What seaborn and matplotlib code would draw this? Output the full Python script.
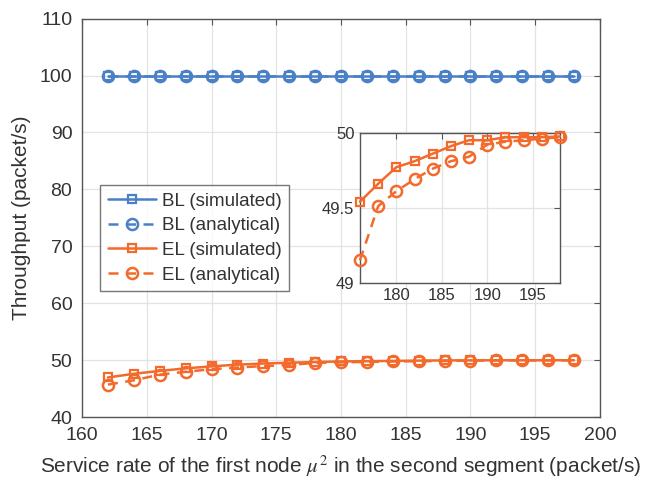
import matplotlib
matplotlib.use('Agg')
import matplotlib.pyplot as plt
import seaborn as sns

# service rate of first node (packet/s)
service_rate = [162, 164, 166, 168, 170, 172, 174, 176, 178, 180,
                182, 184, 186, 188, 190, 192, 194, 196, 198]

bl_simulated = [100.0] * 19
bl_analytical = [100.0] * 19

el_simulated = [46.95, 47.6, 48.1, 48.55, 48.9, 49.2, 49.4, 49.54, 49.66, 49.77,
                49.81, 49.86, 49.91, 49.95, 49.95, 49.97, 49.97, 49.97, 49.975]
el_analytical = [45.7, 46.45, 47.45, 47.95, 48.4, 48.7, 48.95, 49.15, 49.51, 49.61,
                 49.69, 49.76, 49.81, 49.84, 49.92, 49.94, 49.95, 49.96, 49.97]

inset_start = 7  # inset begins at 176

BLUE = '#4A80C6'
ORANGE = '#F26A2C'
TEXT = '#333333'
EDGE = '#555555'


def style_axes(ax, size, pad):
    ax.set_facecolor('white')
    ax.grid(True, color='#e3e3e3', linewidth=0.9)
    ax.tick_params(direction='in', top=True, right=True, length=4, pad=pad,
                   colors=EDGE, labelcolor=TEXT, labelsize=size)
    for sp in ax.spines.values():
        sp.set_color(EDGE)
        sp.set_linewidth(1.0)
        sp.set_visible(True)


def draw_series(ax, x, sim, ana, color, names, clip=True):
    sns.lineplot(x=x, y=sim, ax=ax, color=color, linewidth=1.8,
                 marker='s', markersize=6, markerfacecolor='none',
                 markeredgecolor=color, markeredgewidth=1.6,
                 label=names[0], legend=False, clip_on=clip, zorder=3)
    sns.lineplot(x=x, y=ana, ax=ax, color=color, linewidth=1.8,
                 linestyle=(0, (4, 3)), marker='o', markersize=8,
                 markerfacecolor='none', markeredgecolor=color,
                 markeredgewidth=1.8, label=names[1], legend=False,
                 clip_on=clip, zorder=3)


sns.set_style('white')
plt.rcParams['font.family'] = ['Liberation Sans', 'DejaVu Sans']
plt.rcParams['mathtext.fontset'] = 'stix'

fig = plt.figure(figsize=(6.49, 4.87), dpi=100)
ax = fig.add_axes([0.1264, 0.1437, 0.798, 0.818])

draw_series(ax, service_rate, bl_simulated, bl_analytical, BLUE,
            ['BL (simulated)', 'BL (analytical)'])
draw_series(ax, service_rate, el_simulated, el_analytical, ORANGE,
            ['EL (simulated)', 'EL (analytical)'])

ax.set_xlim(160, 200)
ax.set_ylim(40, 110)
ax.set_xticks(range(160, 201, 5))
ax.set_yticks(range(40, 111, 10))
style_axes(ax, 14, 7)
ax.set_xlabel(r'Service rate of the first node $\mu^2$ in the second segment (packet/s)',
              fontsize=15, color=TEXT, labelpad=7)
ax.set_ylabel('Throughput (packet/s)', fontsize=15, color=TEXT, labelpad=6)

leg = ax.legend(loc='upper left', bbox_to_anchor=(0.035, 0.582), borderaxespad=0,
                fontsize=13.5, frameon=True, fancybox=False, handlelength=2.6,
                handletextpad=0.3, labelspacing=0.4, borderpad=0.4)
leg.get_frame().set_edgecolor(EDGE)
leg.get_frame().set_linewidth(1.0)
for t in leg.get_texts():
    t.set_color(TEXT)

# zoomed inset
axin = fig.add_axes([0.5547, 0.4195, 0.308, 0.308])
draw_series(axin, service_rate[inset_start:], el_simulated[inset_start:],
            el_analytical[inset_start:], ORANGE, ['_a', '_b'], clip=False)
axin.set_xlim(176, 198)
axin.set_ylim(49, 50)
axin.set_xticks([180, 185, 190, 195])
axin.set_yticks([49, 49.5, 50])
axin.set_yticklabels(['49', '49.5', '50'])
style_axes(axin, 12, 4)

fig.savefig('out.png', dpi=100)
